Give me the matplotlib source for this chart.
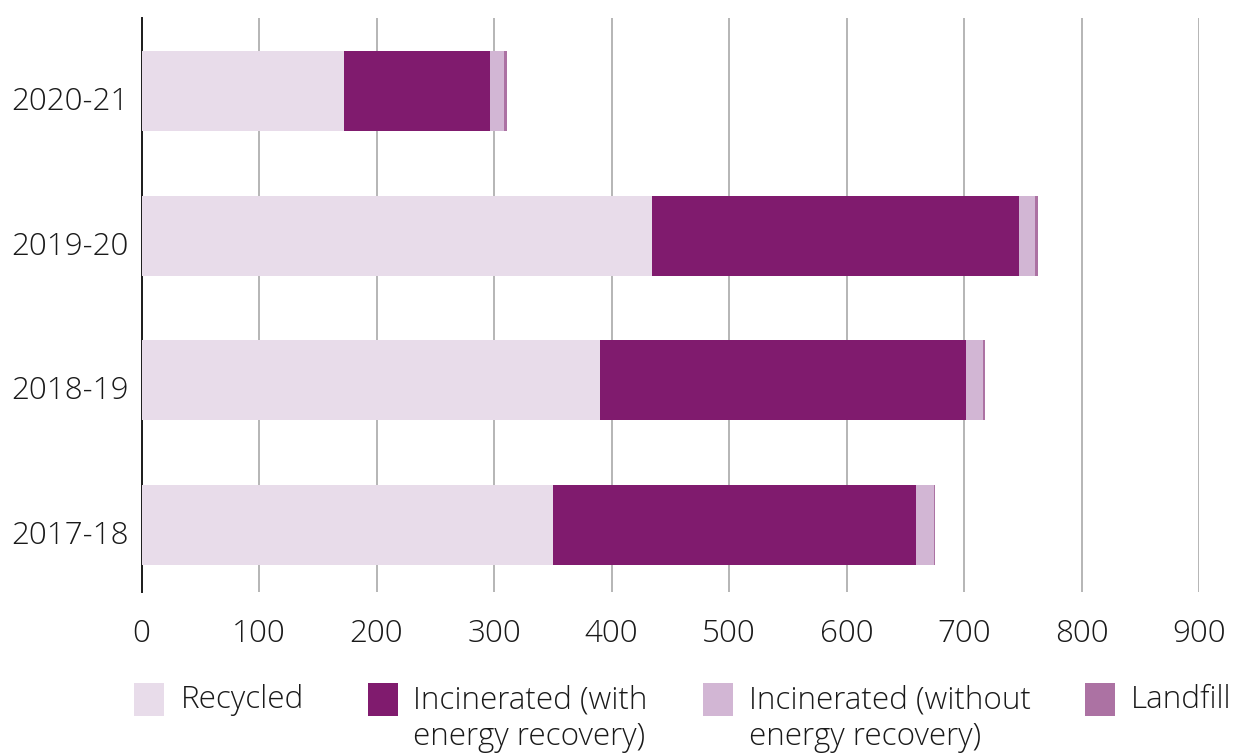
import matplotlib
matplotlib.use("Agg")
import matplotlib.pyplot as plt
from matplotlib.patches import Rectangle
from matplotlib.transforms import ScaledTranslation
import numpy as np

plt.rcParams['font.family'] = ['Open Sans', 'DejaVu Sans']
plt.rcParams['font.weight'] = 'light'

years = ["2017-18", "2018-19", "2019-20", "2020-21"]
recycled = [350.6, 390.6, 434.8, 172.0]
incinerated_energy = [308.5, 310.9, 311.8, 124.3]
incinerated_no_energy = [15.0, 14.5, 14.2, 12.5]
landfill = [1.0, 1.7, 2.0, 2.5]

series_names = ["Recycled", "Incinerated (with\nenergy recovery)",
                "Incinerated (without\nenergy recovery)", "Landfill"]
colors = ["#E8DCEA", "#801B6E", "#D2B6D4", "#AC72A3"]
x_ticks = [0, 100, 200, 300, 400, 500, 600, 700, 800, 900]

FS = 22.6

fig = plt.figure(figsize=(12.37, 7.53), dpi=100)
ax = fig.add_axes([0.1144, 0.214, 0.9693 - 0.1144, 0.976 - 0.214])

y = np.arange(len(years))
left = np.zeros(len(years))
for vals, col in zip([recycled, incinerated_energy, incinerated_no_energy, landfill], colors):
    ax.barh(y, vals, left=left, height=0.553, color=col, zorder=2, linewidth=0)
    left += np.array(vals)

ax.set_xlim(0, 900)
ax.set_ylim(-0.463, 3.505)
ax.set_xticks(x_ticks)
ax.set_xticklabels([str(t) for t in x_ticks])
ax.set_yticks(y)
ax.set_yticklabels(years)
ax.tick_params(axis='both', length=0, labelsize=FS, colors='#1a1a1a')
ax.tick_params(axis='x', pad=19)
ax.tick_params(axis='y', pad=9)

# nudge the year labels slightly downward
shift = ScaledTranslation(0, -7 / 100, fig.dpi_scale_trans)
for lbl in ax.get_yticklabels():
    lbl.set_transform(lbl.get_transform() + shift)

for s in ['top', 'right', 'bottom']:
    ax.spines[s].set_visible(False)
ax.spines['left'].set_color('#1a1a1a')
ax.spines['left'].set_linewidth(1.4)
ax.spines['left'].set_zorder(1)

for t in x_ticks[1:]:
    ax.axvline(t, color='#b5b5b5', linewidth=1.4, zorder=0.5)

# legend drawn in figure coordinates
W, H = 1237.0, 753.0
patch_x = [134, 368, 703, 1085]
text_x = [181, 413, 749, 1131]
for px, tx, name, col in zip(patch_x, text_x, series_names, colors):
    fig.add_artist(Rectangle((px / W, 1 - 716 / H), 30 / W, 33 / H,
                             transform=fig.transFigure, color=col, linewidth=0))
    fig.text(tx / W, 1 - 684 / H, name, fontsize=FS, va='top', ha='left',
             color='#1a1a1a', linespacing=1.2)

fig.savefig("out.png", dpi=100)
